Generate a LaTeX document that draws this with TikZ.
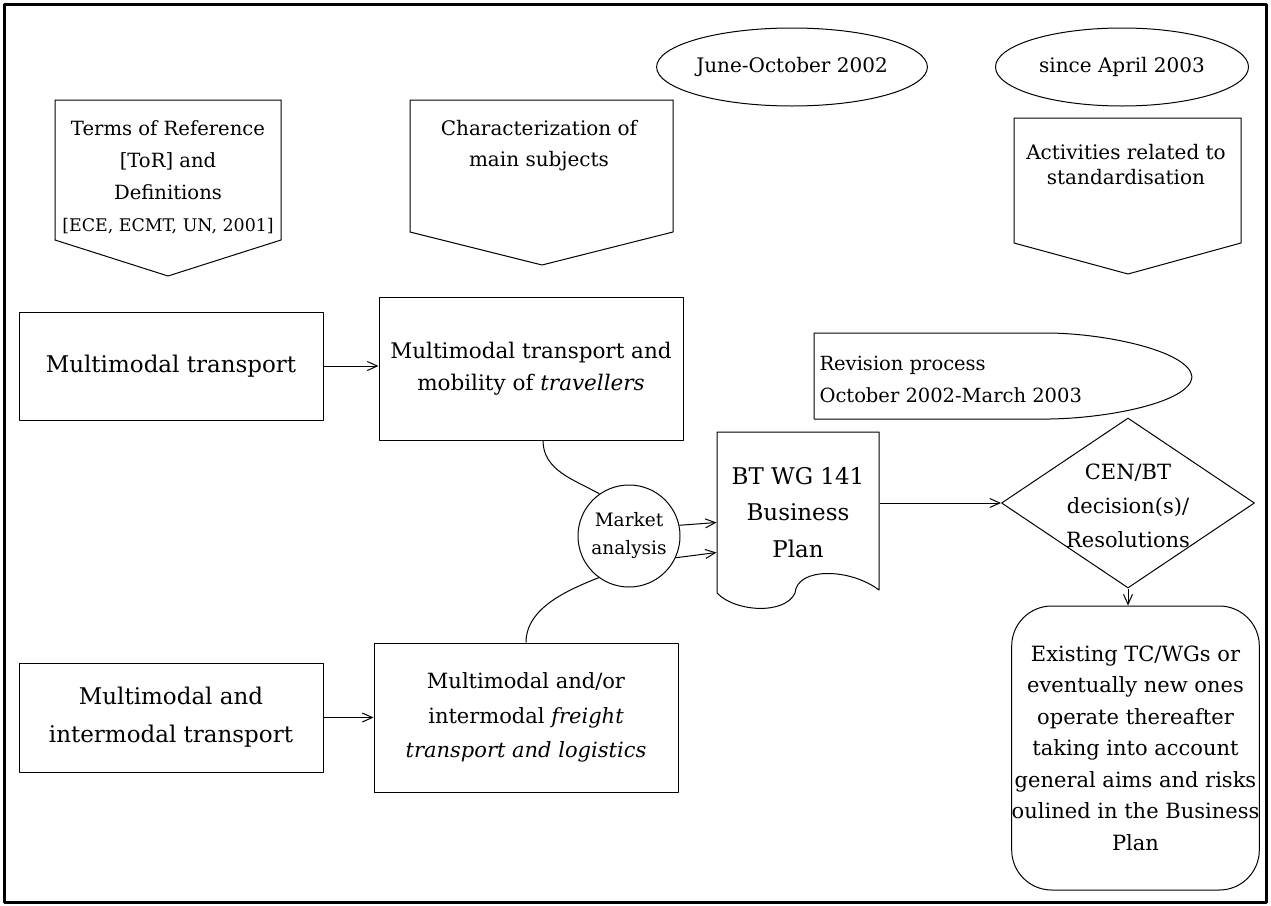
\documentclass[tikz,border=0pt]{standalone}
\usepackage{fontspec}
\setmainfont{DejaVu Serif}
\usetikzlibrary{arrows.meta, positioning, calc, shapes.geometric}
\newcommand{\fsz}[2]{\fontsize{#1}{#2}\selectfont}

\begin{document}
\begin{tikzpicture}[
  x=1pt, y=-1pt,
  line width=1pt,
  line join=round,
  flow/.style={-{Straight Barb[length=10pt, width=9pt]}, line width=1pt},
  link/.style={line width=1pt},
  box/.style={draw, rectangle, inner sep=0pt, align=center, font=\fsz{22}{34}},
  period/.style={draw, ellipse, inner sep=0pt, font=\fsz{20}{24}},
  headtext/.style={inner sep=0pt, align=center, font=\fsz{19.6}{32}}
]
\useasboundingbox (0,0) rectangle (1271,905);
\draw[line width=3pt] (4,4) rectangle (1266,902);

% time periods
\node[period, minimum width=268pt, minimum height=78pt] (jun) at (792,67) {June-October 2002};
\node[period, minimum width=253pt, minimum height=78pt] (apr) at (1122,67) {since April 2003};

% down-pointing heads
\draw (55,100) -- (281,100) -- (281,240) -- (168,276) -- (55,240) -- cycle;
\draw (410,100) -- (673,100) -- (673,232) -- (542,265) -- (410,232) -- cycle;
\draw (1014,118) -- (1241,118) -- (1241,243) -- (1128,274) -- (1014,243) -- cycle;
\node[headtext] (tor) at (168,177)
  {Terms of Reference\\{[ToR] and}\\Definitions\\{\fsz{17.4}{30}[ECE, ECMT, UN, 2001]}};
\node[headtext, font=\fsz{20}{31}] (subj) at (539,146) {Characterization of\\main subjects};
\node[headtext, font=\fsz{20}{25}] (std) at (1126,165) {Activities related to\\standardisation};

% subjects
\node[box, minimum width=304pt, minimum height=108pt, font=\fsz{23}{34}] (mt) at (171,366)
  {Multimodal transport};
\node[box, minimum width=304pt, minimum height=143pt, font=\fsz{21.5}{32}] (trav) at (531,368.5)
  {Multimodal transport and\\mobility of \textit{travellers}};
\node[box, minimum width=304pt, minimum height=109pt, font=\fsz{23}{38}] (mi) at (171,717.5)
  {Multimodal and\\intermodal transport};
\node[box, minimum width=304pt, minimum height=149pt, font=\fsz{21}{34.5}] (fr) at (526,717.5)
  {Multimodal and/or\\intermodal \textit{freight}\\\textit{transport and logistics}};
\node[draw, circle, minimum size=102pt, inner sep=0pt, align=center, font=\fsz{18.5}{28}] (ma)
  at (629,536) {Market\\analysis};

% business plan document
\node[minimum width=162pt, minimum height=161pt, inner sep=0pt, align=center,
      font=\fsz{23}{36.5}] (bt) at (798,512.5) {BT WG 141\\Business\\Plan};
\draw (717,432) -- (879,432) -- (879,590)
  .. controls (850,568) and (797,567) .. (795,593)
  .. controls (785,615) and (735,612) .. (717,593) -- cycle;

% revision process
\draw (814,333) -- (1050,333) .. controls (1110,334) and (1190,352) .. (1192,377)
  .. controls (1190,402) and (1110,418) .. (1050,419) -- (814,419) -- cycle;
\node[anchor=west, align=left, inner sep=0pt, font=\fsz{19.5}{32}] (rev) at (819,379)
  {Revision process\\October 2002-March 2003};

% decision and outcome
\node[draw, diamond, minimum width=253pt, minimum height=170pt, inner sep=0pt] (dec) at (1128,503) {};
\node[inner sep=0pt, align=center, font=\fsz{21}{34}] (dectext) at (1128,506)
  {CEN/BT\\decision(s)/\\Resolutions};
\node[draw, rounded corners=40pt, minimum width=247pt, minimum height=284pt, inner sep=0pt,
      align=center, font=\fsz{21}{31.5}] (ops) at (1135.5,748)
  {Existing TC/WGs or\\eventually new ones\\operate thereafter\\taking into account\\
   general aims and risks\\oulined in the Business\\Plan};

% connectors
\draw[flow] (mt.east) -- (mt.east -| trav.west);
\draw[flow] (mi.east) -- (mi.east -| fr.west);
\draw[link] ($(trav.south)+(12,0)$) .. controls +(0,30) and +(-25,-14) .. (ma.125);
\draw[link] (fr.north) .. controls +(0,-35) and +(-30,12) .. (ma.234);
\draw[flow] (ma.12) -- ($(bt.west)+(0,10)$);
\draw[flow] (ma.-25) -- ($(bt.west)+(0,40)$);
\draw[flow] (bt.east |- dec.west) -- (dec.west);
\draw[flow] (dec.south) -- (dec.south |- ops.north);
\end{tikzpicture}
\end{document}
